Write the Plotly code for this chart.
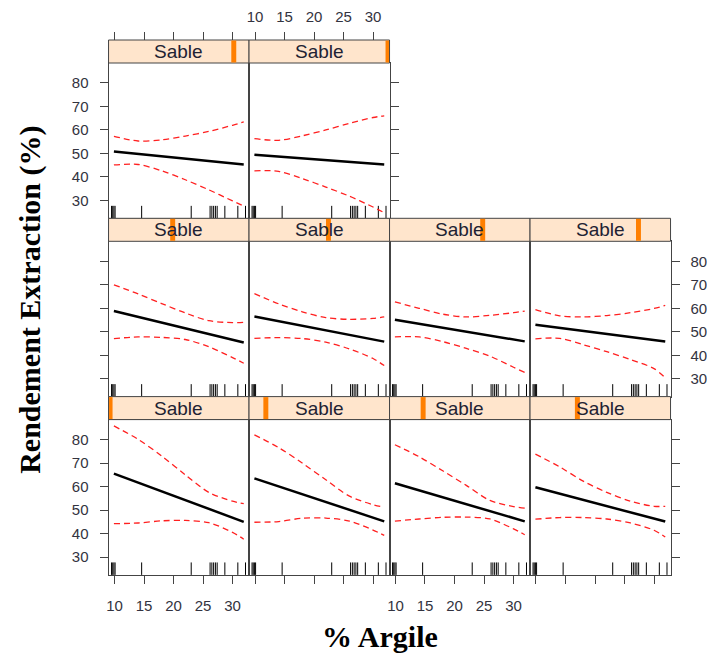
import plotly.graph_objects as go

# ---------------- data ----------------
argile_grid = [9.9, 14, 18, 22, 26, 30, 31.9]
argile_fit = [9.9, 31.9]
argile_rug = [9.5, 9.7, 9.9, 10.1, 14.6, 23.0, 26.2, 26.5, 26.8, 27.1, 27.4, 28.7, 30.9, 32.2]

# Sable levels (panel order: bottom row left->right, middle row, top row)
sable_levels = [26, 31, 36.5, 41, 46.5, 51.5, 56, 61, 66.5, 71]
sable_min, sable_max = 25.5, 71.5

fit_start = [65.5, 63.5, 61.4, 59.7, 58.8, 56.5, 55.1, 53.0, 50.8, 49.4]
fit_end = [45.0, 45.2, 45.2, 45.1, 45.4, 45.8, 45.9, 45.9, 45.3, 45.3]

upper = [
    [85.8, 80.1, 73.0, 65.0, 57.5, 53.8, 52.7],
    [82.0, 76.6, 70.0, 62.9, 55.9, 52.3, 51.2],
    [77.8, 72.7, 66.7, 60.5, 54.1, 51.5, 50.8],
    [73.8, 68.4, 62.3, 57.5, 53.8, 51.6, 51.6],
    [70.0, 66.1, 62.0, 58.0, 54.7, 53.9, 54.0],
    [66.2, 61.9, 58.5, 56.0, 55.3, 55.7, 56.3],
    [62.7, 60.0, 57.5, 56.3, 57.0, 58.1, 58.8],
    [59.4, 56.8, 56.3, 56.9, 58.1, 59.9, 61.2],
    [57.3, 55.3, 55.8, 57.4, 59.4, 62.0, 63.4],
    [56.3, 55.6, 57.5, 60.0, 62.8, 65.3, 66.0],
]
lower = [
    [44.2, 44.5, 45.4, 45.6, 44.6, 40.5, 37.6],
    [44.8, 45.1, 46.5, 46.6, 45.3, 41.5, 39.2],
    [45.3, 46.2, 46.9, 47.0, 46.2, 42.0, 39.5],
    [46.1, 46.8, 46.8, 46.2, 44.5, 41.4, 38.5],
    [47.1, 47.8, 47.6, 46.7, 43.6, 39.0, 36.6],
    [47.2, 47.5, 47.1, 45.6, 42.7, 38.6, 35.6],
    [47.8, 47.8, 45.8, 42.9, 39.6, 34.9, 32.7],
    [47.0, 47.2, 44.5, 41.5, 38.2, 34.3, 30.4],
    [45.1, 45.3, 42.6, 38.8, 34.5, 29.8, 27.6],
    [42.6, 42.4, 39.3, 35.7, 31.8, 27.2, 24.8],
]

x_ticks = [10, 15, 20, 25, 30]
y_ticks = [30, 40, 50, 60, 70, 80]
strip_label = "Sable"
x_title = "% Argile"
y_title = "Rendement Extraction (%)"

# ---------------- layout geometry ----------------
W, H = 707, 653
col_left = [107.3, 248.8, 390.3, 531.8]
col_w = 141.5
row_top = {2: 63.0, 1: 241.3, 0: 419.6}   # 0 = bottom row, 2 = top row
panel_h = 155.3
strip_h = 23.0
x_range = [8.99, 32.8]
y_range = [22.4, 88.5]
rug_top = 27.7

tick_font = dict(family="Liberation Sans, Arial", size=15, color="#333340")
axis_col = "#444444"

panels = [(0, c) for c in range(4)] + [(1, c) for c in range(4)] + [(2, c) for c in range(2)]

fig = go.Figure()
layout = dict(width=W, height=H, margin=dict(l=0, r=0, t=0, b=0),
              paper_bgcolor="white", plot_bgcolor="white", showlegend=False)
shapes, annotations = [], []

def px(x):
    return x / W

def py(y):
    return 1 - y / H

for i, (r, c) in enumerate(panels):
    n = i + 1
    xa = "x" if n == 1 else f"x{n}"
    ya = "y" if n == 1 else f"y{n}"
    left = col_left[c]
    top = row_top[r]
    xd = [px(left), px(left + col_w)]
    yd = [py(top + panel_h), py(top)]

    xax = dict(domain=xd, range=x_range, anchor=ya, showgrid=False, zeroline=False,
               showline=True, mirror=True, linecolor=axis_col, linewidth=1,
               tickvals=x_ticks, ticks="", showticklabels=False,
               tickfont=tick_font, tickcolor=axis_col, ticklen=8)
    if r == 0:
        xax.update(side="bottom", ticks="outside", showticklabels=(c in (0, 2)),
                   ticklabelstandoff=9)
    yax = dict(domain=yd, range=y_range, anchor=xa, showgrid=False, zeroline=False,
               showline=True, mirror=True, linecolor=axis_col, linewidth=1,
               tickvals=y_ticks, ticks="", showticklabels=False,
               tickfont=tick_font, tickcolor=axis_col, ticklen=8)
    if c == 0:
        yax.update(side="left", ticks="outside", showticklabels=(r in (0, 2)),
                   ticklabelstandoff=8)
    last_in_row = (r == 2 and c == 1) or (r < 2 and c == 3)
    if last_in_row:
        yax.update(side="right", ticks="outside", showticklabels=(r == 1),
                   ticklabelstandoff=8)
    layout["xaxis" if n == 1 else f"xaxis{n}"] = xax
    layout["yaxis" if n == 1 else f"yaxis{n}"] = yax

    # rug
    rx, ry = [], []
    for v in argile_rug:
        rx += [v, v, None]
        ry += [y_range[0], rug_top, None]
    fig.add_trace(go.Scatter(x=rx, y=ry, mode="lines", xaxis=xa, yaxis=ya,
                             line=dict(color="black", width=1), hoverinfo="skip"))
    # confidence band
    for band in (upper[i], lower[i]):
        fig.add_trace(go.Scatter(x=argile_grid, y=band, mode="lines", xaxis=xa, yaxis=ya,
                                 line=dict(color="#ff2020", width=1.3, dash="6px,4px",
                                           shape="spline", smoothing=0.9),
                                 hoverinfo="skip"))
    # fit
    fig.add_trace(go.Scatter(x=argile_fit, y=[fit_start[i], fit_end[i]], mode="lines",
                             xaxis=xa, yaxis=ya, line=dict(color="black", width=2.5),
                             hoverinfo="skip"))

    # strip
    s_top = top - strip_h
    shapes.append(dict(type="rect", xref="paper", yref="paper",
                       x0=px(left), x1=px(left + col_w), y0=py(top), y1=py(s_top),
                       fillcolor="#ffe5cc", line=dict(color=axis_col, width=1), layer="above"))
    frac = (sable_levels[i] - sable_min) / (sable_max - sable_min)
    bc = left + frac * col_w
    b0 = max(left + 0.5, bc - 2.5)
    b1 = min(left + col_w - 0.5, bc + 2.5)
    shapes.append(dict(type="rect", xref="paper", yref="paper",
                       x0=px(b0), x1=px(b1), y0=py(top - 0.5), y1=py(s_top + 0.5),
                       fillcolor="#ff7f00", line=dict(width=0), layer="above"))
    annotations.append(dict(text=strip_label, xref="paper", yref="paper",
                            x=px(left + col_w / 2), y=py(s_top + strip_h / 2),
                            showarrow=False, xanchor="center", yanchor="middle",
                            font=dict(family="Liberation Sans, Arial", size=19, color="#222233")))

# top axes (above strips) for the top row
for k, (n_base, with_labels) in enumerate([(9, False), (10, True)]):
    n = 11 + k
    layout[f"xaxis{n}"] = dict(overlaying=f"x{n_base}", anchor="free",
                               position=py(row_top[2] - strip_h), side="top",
                               range=x_range, tickvals=x_ticks, ticks="outside",
                               ticklen=8, tickcolor=axis_col, showline=False,
                               showgrid=False, zeroline=False,
                               showticklabels=with_labels, tickfont=tick_font,
                               ticklabelstandoff=4)
    fig.add_trace(go.Scatter(x=[20], y=[50], mode="markers", xaxis=f"x{n}",
                             yaxis=f"y{n_base}", marker=dict(opacity=0),
                             hoverinfo="skip"))

annotations.append(dict(text=f"<b>{y_title}</b>", xref="paper", yref="paper",
                        x=px(28), y=py(300), textangle=-90, showarrow=False,
                        xanchor="center", yanchor="middle",
                        font=dict(family="Liberation Serif, Times New Roman", size=30, color="black")))
annotations.append(dict(text=f"<b>{x_title}</b>", xref="paper", yref="paper",
                        x=px(381), y=py(636), showarrow=False,
                        xanchor="center", yanchor="middle",
                        font=dict(family="Liberation Serif, Times New Roman", size=30, color="black")))

layout["shapes"] = shapes
layout["annotations"] = annotations
fig.update_layout(**layout)
fig.write_html("out.html", config={"displayModeBar": False},
               post_script="document.body.style.margin='0px';document.body.style.overflow='hidden';")
